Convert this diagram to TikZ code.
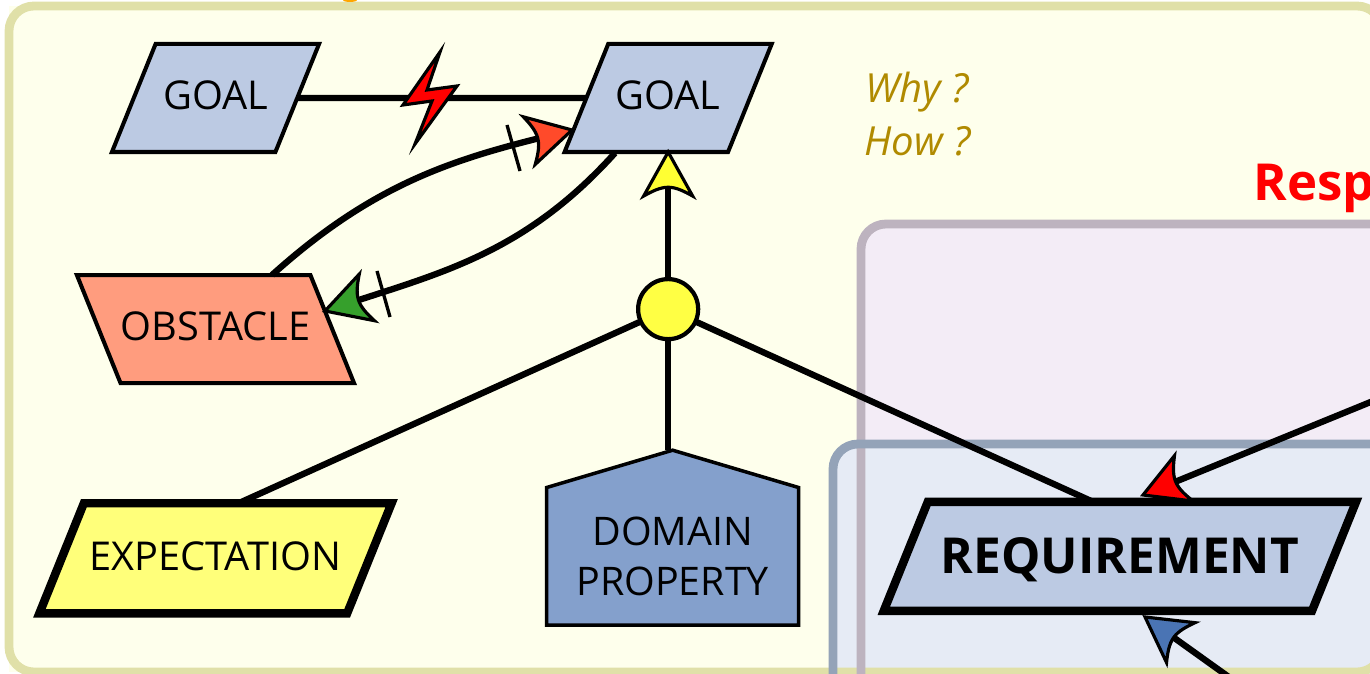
\documentclass[tikz,border=0pt]{standalone}
\usepackage{fontspec}
\setmainfont{Open Sans}
\usetikzlibrary{arrows.meta,calc,positioning,shapes.geometric,shapes.symbols}

\definecolor{framefill}{HTML}{FEFFEC}
\definecolor{framedraw}{HTML}{E0E0A8}
\definecolor{respfill}{HTML}{F3ECF6}
\definecolor{respdraw}{HTML}{BDB3BF}
\definecolor{reqfill}{HTML}{E6EBF5}
\definecolor{reqdraw}{HTML}{94A3B8}
\definecolor{goalfill}{HTML}{BCCAE3}
\definecolor{obstaclefill}{HTML}{FF9C7E}
\definecolor{expectfill}{HTML}{FFFF7A}
\definecolor{domainfill}{HTML}{84A0CC}
\definecolor{questiontext}{HTML}{B08A00}
\definecolor{refinefill}{HTML}{FFFF44}
\definecolor{headorange}{HTML}{FF4A2A}
\definecolor{headgreen}{HTML}{36A02C}
\definecolor{headyellow}{HTML}{FFFF33}
\definecolor{headblue}{HTML}{4A74B4}

\pgfdeclarearrow{
  name = Barbed,
  setup code = {
    \pgfarrowssettipend{\pgfarrowlength}
    \pgfarrowssetlineend{.25\pgfarrowlength}
    \pgfarrowssetbackend{0pt}
    \pgfarrowssavethe\pgfarrowlength
    \pgfarrowssavethe\pgfarrowwidth
    \pgfarrowssavethe\pgfarrowlinewidth
  },
  drawing code = {
    \pgfsetlinewidth{\pgfarrowlinewidth}
    \pgfsetmiterjoin
    \pgfpathmoveto{\pgfqpoint{\pgfarrowlength}{0pt}}
    \pgfpathlineto{\pgfqpoint{0pt}{.5\pgfarrowwidth}}
    \pgfpathcurveto{\pgfqpoint{.1\pgfarrowlength}{.34\pgfarrowwidth}}{\pgfqpoint{.2\pgfarrowlength}{.17\pgfarrowwidth}}{\pgfqpoint{.2\pgfarrowlength}{0pt}}
    \pgfpathcurveto{\pgfqpoint{.2\pgfarrowlength}{-.17\pgfarrowwidth}}{\pgfqpoint{.1\pgfarrowlength}{-.34\pgfarrowwidth}}{\pgfqpoint{0pt}{-.5\pgfarrowwidth}}
    \pgfpathclose
    \pgfusepathqfillstroke
  },
  parameters = {\the\pgfarrowlength,\the\pgfarrowwidth,\the\pgfarrowlinewidth},
  defaults = {length=.44cm,width=.49cm,line width=.9pt}
}

\tikzset{
  goalbox/.style={trapezium, draw, line width=1.15pt, fill=goalfill, inner xsep=0pt, inner ysep=.36cm, outer sep=0pt,
    text height=.3cm, text depth=.06cm,
    trapezium left angle=68, trapezium right angle=112, trapezium stretches body=true,
    minimum width=2.07cm, font=\fontsize{11.3}{14}\selectfont},
  link/.style={line width=1.8pt},
  tickmark/.style={line width=.95pt},
  panel/.style={line width=2.5pt, rounded corners=.25cm},
}

\begin{document}
\begin{tikzpicture}[x=0.01cm,y=0.01cm]
    \useasboundingbox (0,0) rectangle (1370,-674);
    \clip (0,0) rectangle (1370,-674);
    \fill[framefill] (9,-6) rectangle (1382,-672);
    \fill[rounded corners=.25cm, respfill] (861,-224) rectangle (1500,-800);
    \fill[rounded corners=.25cm, reqfill] (833,-444) rectangle (1500,-800);
    \draw[panel, draw=framedraw] (9,-6) rectangle (1382,-672);
    \draw[panel, draw=respdraw] (861,-224) rectangle (1500,-800);
    \draw[panel, draw=reqdraw] (833,-444) rectangle (1500,-800);
    \fill[orange!70!yellow] (350,0) ellipse (7 and 2);

    \node(goalA) [goalbox] at (215.5,-98) {GOAL};
    \node(goalB) [goalbox, right = 2.89cm of goalA] {GOAL};
    \node(obstacle) [goalbox, fill=obstaclefill, trapezium left angle=112, trapezium right angle=68, minimum width=2.75cm, text depth=.08cm, inner ysep=.35cm, below = 1.23cm of goalA] {OBSTACLE};
    \node(expect) [goalbox, fill=expectfill, line width=2.4pt, minimum width=3.52cm, inner ysep=.37cm, below = 1.2cm of obstacle] {EXPECTATION};
    \node(refine) [circle, draw, line width=1.2pt, fill=refinefill, minimum size=.6cm, inner sep=0pt, outer sep=0pt, below = 1.27cm of goalB] {};
    \node(domain) [signal, signal to=north, signal pointer angle=147, draw, line width=1pt, fill=domainfill, inner sep=0pt, outer sep=0pt, minimum width=2.52cm, minimum height=1.66cm, align=center, font=\fontsize{11.2}{14}\selectfont, below = 1.11cm of refine, xshift=.045cm] {DOMAIN\\PROPERTY};
    \node(req) [goalbox, line width=2.4pt, minimum width=4.72cm, inner ysep=.345cm, text height=.37cm, text depth=.03cm, font=\fontsize{14.1}{18}\selectfont\bfseries, right = 1.07cm of domain] {REQUIREMENT};

    \node(why) [anchor=west, text=questiontext, font=\fontsize{11.4}{14}\selectfont\itshape] at (853,-92) {Why ?};
    \node(how) [anchor=west, text=questiontext, font=\fontsize{11.4}{14}\selectfont\itshape] at (852,-141) {How ?};
    \node(resp) [anchor=west, text=red, font=\fontsize{14.5}{16}\selectfont\bfseries] at (1241,-188) {Resp};

    \coordinate (respend) at (1400,-390);
    \coordinate (reqtop) at (1143,-495);
    \coordinate (specend) at (1240,-685);
    \coordinate (reqbottom) at (1145,-617);
    \coordinate (obstaclein) at (325,-311);
    \coordinate (goalin) at (572,-130);
    \coordinate (obstacleout) at (272,-275);
    \coordinate (goalout) at (615,-153);

    \draw[link] (goalA) -- (goalB);
    \draw[link, -{Barbed[fill=headyellow]}] (refine) -- (goalB.south);
    \draw[link] (refine) -- ($(expect.north)+(23,0)$);
    \draw[link] (refine) -- (refine |- domain.north);
    \draw[link] (refine) -- ($(req.north)+(-27,0)$);
    \draw[link, -{Barbed[fill=headorange]}] (obstacleout) to[out=42,in=194](goalin);
    \draw[link, -{Barbed[fill=headgreen]}] (goalout) to[out=228,in=18](obstaclein);
    \draw[link, -{Barbed[fill=red]}] (respend) -- (reqtop);
    \draw[link, -{Barbed[fill=headblue]}] (specend) -- (reqbottom);

    \draw[tickmark] (507,-125) -- (520,-171);
    \draw[tickmark] (377,-271) -- (390,-317);
    \draw[line width=.9pt, fill=red] (440,-52) -- (403,-105) -- (432,-101) -- (415,-144) -- (457,-86) -- (427,-90) -- cycle;
  \end{tikzpicture}
\end{document}
